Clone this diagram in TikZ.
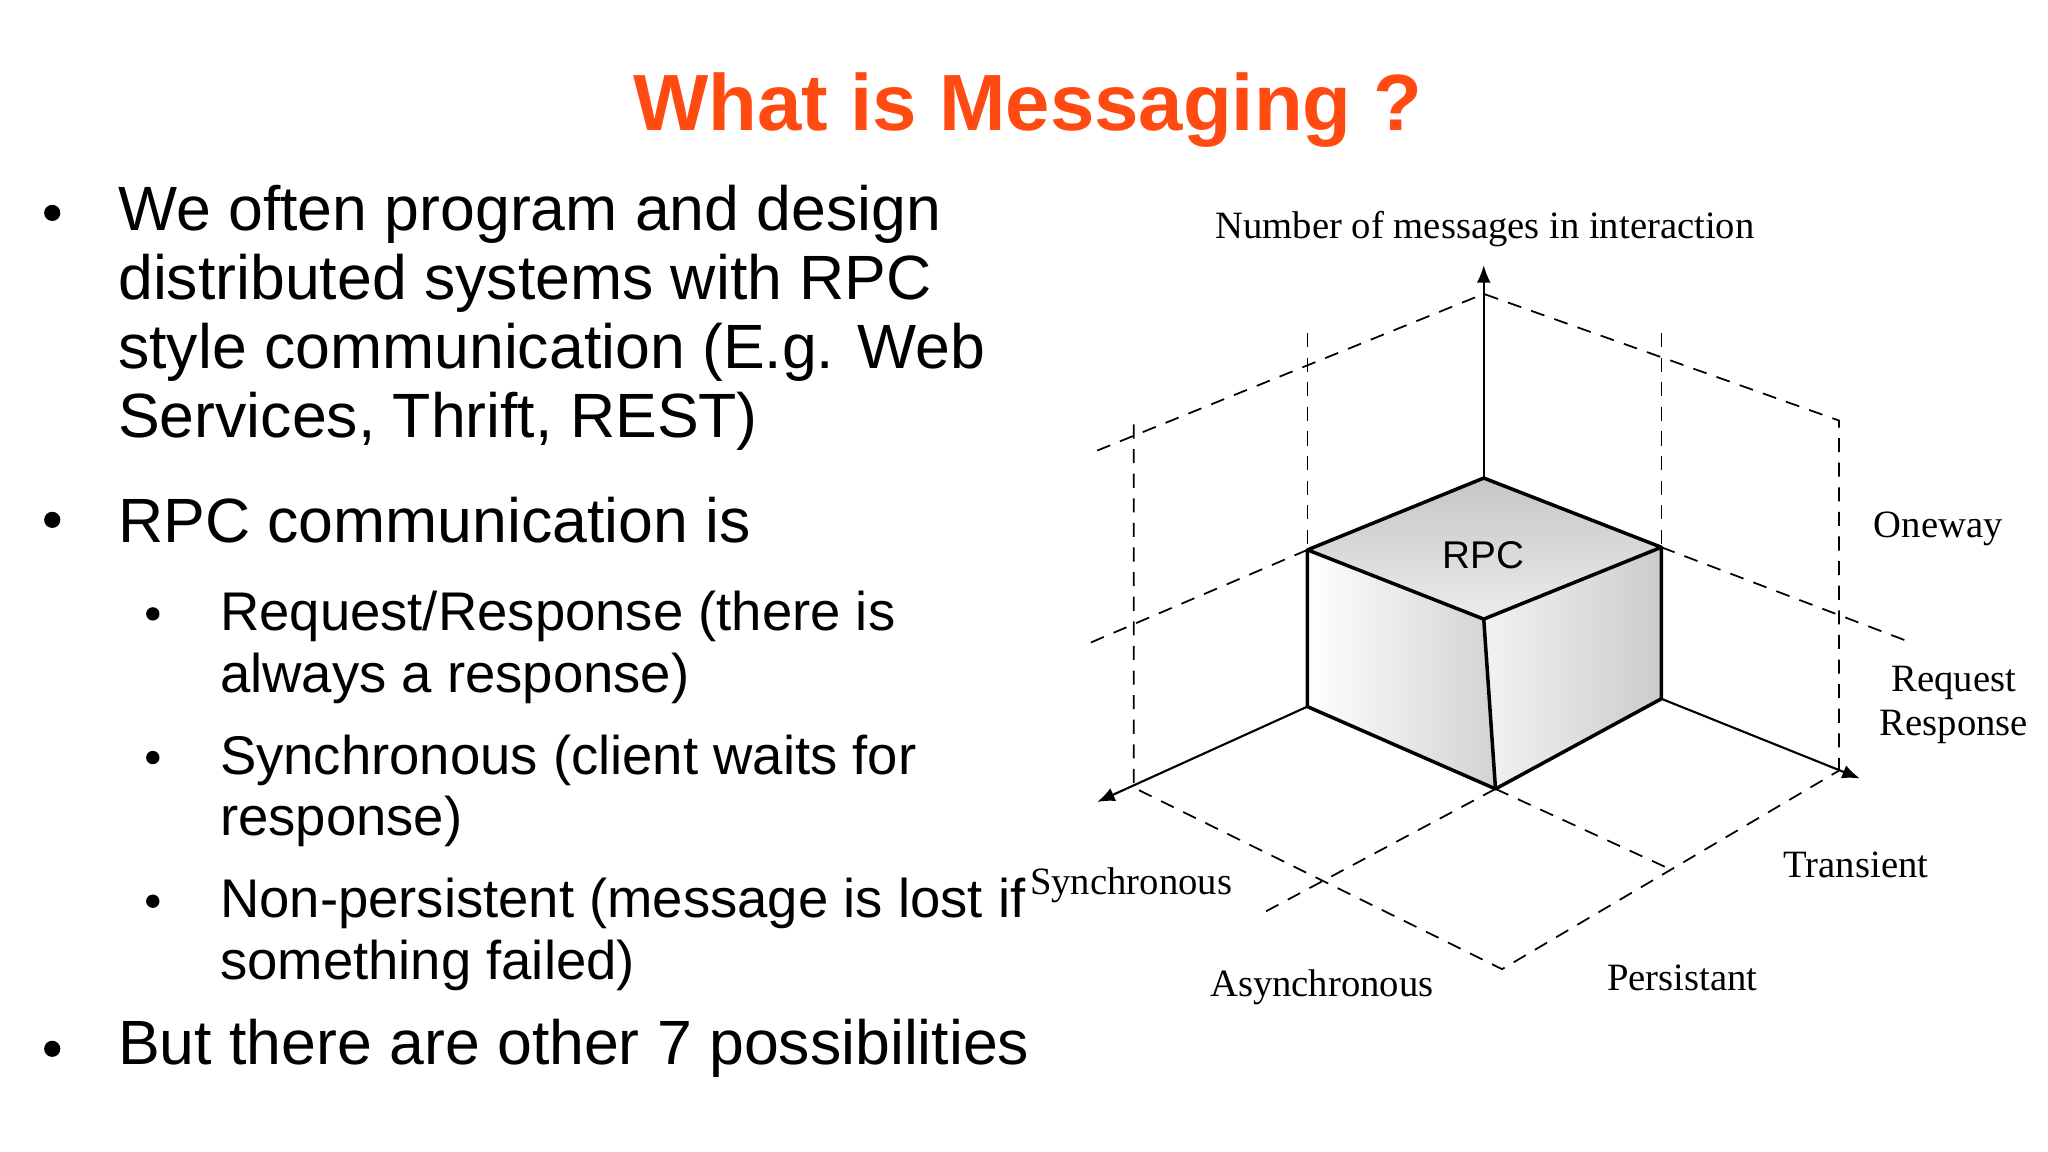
\documentclass[tikz,border=0pt]{standalone}
\usepackage{fontspec}
\setmainfont{Liberation Sans}
\newfontfamily\serifl{Liberation Serif}
\usetikzlibrary{arrows.meta}
\definecolor{titlec}{HTML}{FF4A12}
\begin{document}
\begin{tikzpicture}[x=0.01306cm,y=-0.01306cm,
  body/.style={anchor=west,inner sep=0pt,font=\fontsize{17.8}{19.7}\selectfont,align=left},
  sub/.style={anchor=west,inner sep=0pt,font=\fontsize{15.5}{17.5}\selectfont,align=left},
  dot/.style={circle,fill=black,inner sep=0pt,minimum size=#1},
  lab/.style={inner sep=0pt,font=\serifl\fontsize{11}{12.5}\selectfont,align=center},
  dsh/.style={dashed,dash pattern=on 4pt off 3pt,line width=0.5pt},
  ax/.style={line width=0.6pt,-{Latex[length=5pt,width=4pt]}},
  edge/.style={line width=1pt}]
\useasboundingbox (0,0) rectangle (1568,882);
\fill[white] (0,0) rectangle (1568,882);
\node[font=\bfseries\fontsize{22.7}{26}\selectfont,text=titlec] (title) at (787,84) {What is Messaging ?};
% bullets
\node[dot=4.6pt] (d1) at (40,163) {};
\node[body,anchor=north west] (b1) at (90,141) {We often program and design\\distributed systems with RPC\\style communication (E.g. Web\\Services, Thrift, REST)};
\node[dot=4.6pt] (d2) at (40,398) {};
\node[body] (b2) at (90,398) {RPC communication is};
\node[dot=3.8pt] (s1d) at (117,470) {};
\node[sub,anchor=north west] (s1) at (168,452) {Request/Response (there is\\always a response)};
\node[dot=3.8pt] (s2d) at (117,580) {};
\node[sub,anchor=north west] (s2) at (168,562) {Synchronous (client waits for\\response)};
\node[dot=3.8pt] (s3d) at (117,690) {};
\node[sub,anchor=north west] (s3) at (168,672) {Non-persistent (message is lost if\\something failed)};
\node[dot=4.6pt] (d3) at (40,803) {};
\node[body] (b3) at (90,803) {But there are other 7 possibilities};
% cube coordinates
\coordinate (T) at (1136,366);
\coordinate (L) at (1001,421);
\coordinate (R) at (1272,419);
\coordinate (F) at (1136,474);
\coordinate (BL) at (1001,541);
\coordinate (BR) at (1272,535);
\coordinate (BF) at (1145,604);
\coordinate (ytop) at (1136,203);
\coordinate (xl) at (840,614);
\coordinate (xr) at (1424,596);
% dashed frame
\coordinate (P1) at (1136,225);
\coordinate (P2) at (840,345);
\coordinate (P3) at (1408,322);
\coordinate (P4) at (1408,590);
\coordinate (P5) at (868,325);
\coordinate (P6) at (868,603);
\coordinate (P7) at (1150,742);
\coordinate (P8) at (835,492);
\coordinate (P9) at (1458,490);
\coordinate (P10) at (965,700);
\coordinate (P11) at (1282,667);
\coordinate (V1) at (1001,255);
\coordinate (V2) at (1272,255);
\draw[dsh] (P2) -- (P1) -- (P3) -- (P4);
\draw[dsh] (P5) -- (P6) -- (P7) -- (P4);
\draw[dsh] (V1) -- (L);
\draw[dsh] (V2) -- (R);
\draw[dsh] (L) -- (P8);
\draw[dsh] (R) -- (P9);
\draw[dsh] (BF) -- (P10);
\draw[dsh] (BF) -- (P11);
% axes
\draw[ax] (T) -- (ytop);
\draw[ax] (BL) -- (xl);
\draw[ax] (BR) -- (xr);
% cube faces
\shade[top color=gray!45,bottom color=gray!15] (T) -- (R) -- (F) -- (L) -- cycle;
\shade[left color=white,right color=gray!35] (L) -- (F) -- (BF) -- (BL) -- cycle;
\shade[left color=gray!10,right color=gray!40] (F) -- (R) -- (BR) -- (BF) -- cycle;
\draw[edge,line join=round] (T) -- (R) -- (F) -- (L) -- cycle;
\draw[edge,line join=round] (L) -- (BL) -- (BF) -- (BR) -- (R);
\draw[edge] (F) -- (BF);
\node[font=\fontsize{11}{13}\selectfont] (rpc) at (1136,425) {RPC};
% labels
\node[lab] (ln) at (1137,175) {Number of messages in interaction};
\node[lab] (lo) at (1484,405) {Oneway};
\node[lab] (lr) at (1496,540) {Request\\Response};
\node[lab] (lt) at (1421,662) {Transient};
\node[lab] (lp) at (1288,749) {Persistant};
\node[lab] (la) at (1012,756) {Asynchronous};
\node[lab] (ls) at (866,678) {Synchronous};
\end{tikzpicture}
\end{document}
